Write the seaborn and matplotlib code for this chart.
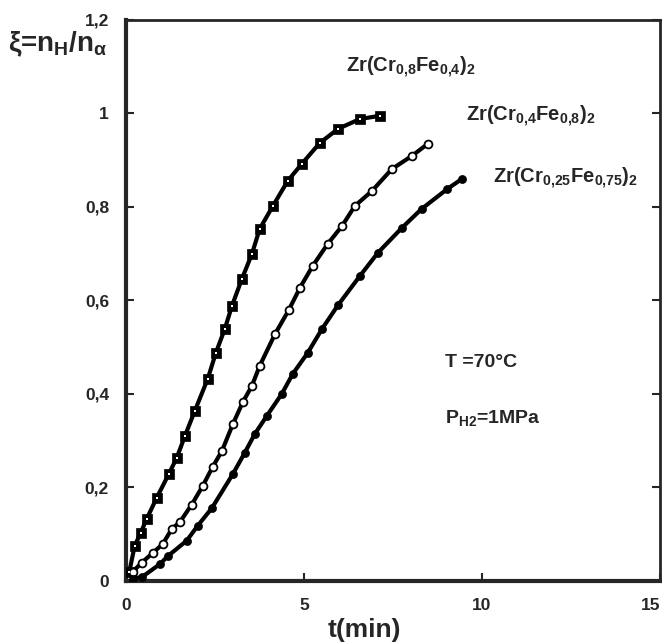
import numpy as np
import pandas as pd
import matplotlib
matplotlib.use("Agg")
import matplotlib.pyplot as plt
import seaborn as sns

# -----------------------------
# Data: t (min) vs xi = nH / n_alpha
# -----------------------------
t_cr06 = [0.10, 0.25, 0.42, 0.59, 0.87, 1.21, 1.43, 1.66, 1.94, 2.30, 2.53, 2.78,
          2.98, 3.26, 3.54, 3.76, 4.13, 4.55, 4.94, 5.45, 5.96, 6.57, 7.13]
xi_cr06 = [0.02, 0.075, 0.103, 0.133, 0.178, 0.229, 0.263, 0.310, 0.364, 0.432, 0.488, 0.539,
           0.588, 0.646, 0.699, 0.753, 0.802, 0.856, 0.892, 0.937, 0.967, 0.988, 0.995]

t_cr04 = [0.20, 0.45, 0.76, 1.04, 1.29, 1.52, 1.85, 2.16, 2.44, 2.70, 3.01, 3.29,
          3.54, 3.76, 4.19, 4.58, 4.89, 5.25, 5.67, 6.07, 6.43, 6.91, 7.47, 8.03, 8.48]
xi_cr04 = [0.02, 0.039, 0.060, 0.079, 0.111, 0.126, 0.163, 0.203, 0.244, 0.278, 0.336, 0.383,
           0.417, 0.460, 0.528, 0.580, 0.627, 0.674, 0.721, 0.759, 0.802, 0.834, 0.881, 0.909, 0.935]

t_cr025 = [0.20, 0.45, 0.96, 1.18, 1.71, 2.02, 2.42, 3.01, 3.34, 3.62, 3.96, 4.38,
           4.69, 5.11, 5.51, 5.96, 6.57, 7.08, 7.75, 8.31, 9.02, 9.44]
xi_cr025 = [0.005, 0.008, 0.036, 0.053, 0.086, 0.118, 0.156, 0.229, 0.274, 0.314, 0.353, 0.400,
            0.443, 0.488, 0.539, 0.590, 0.652, 0.702, 0.755, 0.796, 0.838, 0.860]

x_ticks = [0, 5, 10, 15]
y_ticks = [0, 0.2, 0.4, 0.6, 0.8, 1.0, 1.2]
y_tick_labels = ["0", "0,2", "0,4", "0,6", "0,8", "1", "1,2"]

sns.set_style("ticks")
plt.rcParams["font.family"] = ["Liberation Sans", "DejaVu Sans"]
plt.rcParams["font.weight"] = "bold"
plt.rcParams["mathtext.fontset"] = "custom"
plt.rcParams["mathtext.rm"] = "Liberation Sans:bold"
plt.rcParams["mathtext.it"] = "Liberation Sans:bold"
plt.rcParams["mathtext.bf"] = "Liberation Sans:bold"
plt.rcParams["mathtext.default"] = "rm"

fig = plt.figure(figsize=(6.62, 6.44), dpi=100)
ax = fig.add_axes([0.190, 0.098, 0.807, 0.871])

df1 = pd.DataFrame({"t": t_cr06, "xi": xi_cr06})
df2 = pd.DataFrame({"t": t_cr04, "xi": xi_cr04})
df3 = pd.DataFrame({"t": t_cr025, "xi": xi_cr025})

# fitted curves
for df in (df1, df2, df3):
    sns.lineplot(data=df, x="t", y="xi", ax=ax, color="black", lw=3.0, sort=True)

# markers
sns.scatterplot(data=df1, x="t", y="xi", ax=ax, marker="s", s=60,
                color="black", edgecolor="black", linewidth=0.5, zorder=3)
sns.scatterplot(data=df1, x="t", y="xi", ax=ax, marker="s", s=4,
                color="white", linewidth=0, zorder=4)
sns.scatterplot(data=df2, x="t", y="xi", ax=ax, marker="o", s=32,
                color="white", edgecolor="black", linewidth=1.3, zorder=3)
sns.scatterplot(data=df3, x="t", y="xi", ax=ax, marker="o", s=34,
                color="black", edgecolor="black", zorder=3)

ax.set_xlim(0, 15)
ax.set_ylim(0, 1.2)
ax.set_xticks(x_ticks)
ax.set_yticks(y_ticks)
ax.set_yticklabels(y_tick_labels)
ax.tick_params(axis="both", direction="in", length=6, width=1.5,
               labelsize=12.5, top=False, right=True)
ax.tick_params(axis="y", pad=12)
ax.tick_params(axis="x", pad=12)
for lab in ax.get_xticklabels() + ax.get_yticklabels():
    lab.set_fontweight("bold")
ax.get_xticklabels()[-1].set_horizontalalignment("right")

ax.spines["left"].set_linewidth(3)
ax.spines["bottom"].set_linewidth(3)
ax.spines["top"].set_linewidth(2)
ax.spines["right"].set_linewidth(2)

ax.set_xlabel("")
ax.set_ylabel("")
fig.text(0.551, 0.022, "t(min)", fontsize=19, fontweight="bold",
         ha="center", va="center")

fig.text(0.012, 0.932, r"ξ=n$_{H}$/n$_{α}$", fontsize=20, fontweight="bold",
         ha="left", va="center")

ax.text(0.413, 0.915, r"Zr(Cr$_{0{,}8}$Fe$_{0{,}4}$)$_2$", transform=ax.transAxes,
        fontsize=14.5, fontweight="bold", ha="left", va="center")
ax.text(0.636, 0.828, r"Zr(Cr$_{0{,}4}$Fe$_{0{,}8}$)$_2$", transform=ax.transAxes,
        fontsize=14.5, fontweight="bold", ha="left", va="center")
ax.text(0.688, 0.718, r"Zr(Cr$_{0{,}25}$Fe$_{0{,}75}$)$_2$", transform=ax.transAxes,
        fontsize=14.5, fontweight="bold", ha="left", va="center")

ax.text(0.598, 0.389, "T =70°C", transform=ax.transAxes,
        fontsize=14, fontweight="bold", ha="left", va="center")
ax.text(0.598, 0.290, r"P$_{H2}$=1MPa", transform=ax.transAxes,
        fontsize=14, fontweight="bold", ha="left", va="center")

fig.savefig("out.png", dpi=100)
